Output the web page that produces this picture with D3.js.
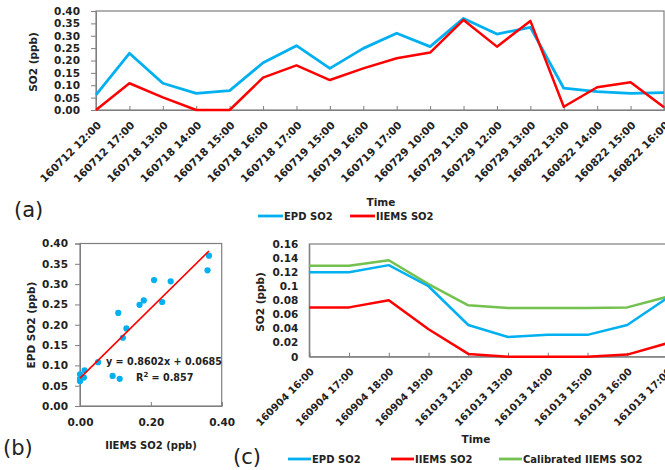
<!DOCTYPE html>
<html><head><meta charset="utf-8">
<script src="https://cdn.jsdelivr.net/npm/d3@7"></script>
<style>
html,body{margin:0;padding:0;background:#fff;}
svg{display:block;font-family:"DejaVu Sans",sans-serif;}
.tick text{font-weight:700;font-size:10.5px;fill:#222;font-family:"DejaVu Sans",sans-serif;}
.lbl{font-weight:700;fill:#222;}
</style></head>
<body>
<svg id="c" width="665" height="470"></svg>
<script>
// ---- Data (a)
const timesA = ["160712 12:00","160712 17:00","160718 13:00","160718 14:00","160718 15:00","160718 16:00","160718 17:00","160719 15:00","160719 16:00","160719 17:00","160729 10:00","160729 11:00","160729 12:00","160729 13:00","160822 13:00","160822 14:00","160822 15:00","160822 16:00"];
const epdA   = [0.061,0.229,0.108,0.067,0.078,0.191,0.260,0.168,0.249,0.310,0.256,0.370,0.307,0.334,0.088,0.074,0.067,0.070];
const iiemsA = [0.000,0.108,0.051,0.000,0.000,0.131,0.180,0.121,0.168,0.209,0.232,0.364,0.256,0.360,0.013,0.092,0.112,0.011];
const ticksA = [0,0.05,0.10,0.15,0.20,0.25,0.30,0.35,0.40];
// ---- Data (b)
const slope = 0.8602, intercept = 0.0685;
const eqText = "y = 0.8602x + 0.0685";
const r2Text = "0.857";
const ticksBY = [0,0.05,0.10,0.15,0.20,0.25,0.30,0.35,0.40];
const ticksBX = [0,0.20,0.40];
// ---- Data (c)
const timesC = ["160904 16:00","160904 17:00","160904 18:00","160904 19:00","161013 12:00","161013 13:00","161013 14:00","161013 15:00","161013 16:00","161013 17:00"];
const epdC   = [0.120,0.120,0.130,0.100,0.045,0.028,0.031,0.031,0.045,0.083];
const iiemsC = [0.070,0.070,0.080,0.039,0.004,0.000,0.000,0.000,0.003,0.019];
const calC   = [0.129,0.129,0.137,0.103,0.073,0.069,0.069,0.069,0.070,0.085];
const ticksC = [0,0.02,0.04,0.06,0.08,0.10,0.12,0.14,0.16];

const BLUE="#00b0f0", RED="#ff0000", GREEN="#74c14f", AX="#7f7f7f";
const svg = d3.select("#c");

function styleAxis(g){
  g.select(".domain").attr("stroke",AX);
  g.selectAll(".tick line").attr("stroke",AX);
}
function rotLabels(g, x, names, y0, fs){
  g.selectAll(null).data(names).join("text")
    .attr("class","lbl").attr("font-size",fs)
    .attr("text-anchor","end").attr("dominant-baseline","central")
    .attr("transform",d=>`translate(${x(d)+3},${y0+13}) rotate(-45)`)
    .text(d=>d);
}

// ================= (a) =================
{
  const L=96,R=664,T=11,B=110;
  const x=d3.scalePoint().domain(timesA).range([L,R]);
  const y=d3.scaleLinear().domain([0,0.40]).range([B,T]);
  const g=svg.append("g");
  g.append("rect").attr("x",L).attr("y",T).attr("width",R-L).attr("height",B-T)
    .attr("fill","none").attr("stroke",AX).attr("stroke-width",1.2);
  g.append("g").attr("transform",`translate(${L},0)`)
    .call(d3.axisLeft(y).tickValues(ticksA).tickSize(5).tickPadding(11).tickFormat(d3.format(".2f")))
    .call(styleAxis);
  g.append("g").attr("transform",`translate(0,${B})`)
    .call(d3.axisBottom(x).tickSize(-4).tickFormat(""))
    .call(styleAxis);
  rotLabels(g,x,timesA,B,10.5);
  const line=d3.line().x((d,i)=>x(timesA[i])).y(d=>y(d));
  g.append("path").datum(epdA).attr("d",line).attr("fill","none").attr("stroke",BLUE).attr("stroke-width",2.8).attr("stroke-linejoin","round");
  g.append("path").datum(iiemsA).attr("d",line).attr("fill","none").attr("stroke",RED).attr("stroke-width",2.5).attr("stroke-linejoin","round");
  g.append("text").attr("class","lbl").attr("font-size",10.5).attr("text-anchor","middle")
    .attr("transform",`translate(37,62) rotate(-90)`).text("SO2  (ppb)");
  g.append("text").attr("class","lbl").attr("font-size",10.5).attr("text-anchor","middle")
    .attr("x",381).attr("y",206).text("Time");
  g.append("text").attr("font-size",21).attr("fill","#222").attr("x",14).attr("y",217).text("(a)");
  const lg=[{n:"EPD SO2",c:BLUE,x:258},{n:"IIEMS SO2",c:RED,x:350}];
  lg.forEach(d=>{
    g.append("line").attr("x1",d.x).attr("x2",d.x+25).attr("y1",216).attr("y2",216).attr("stroke",d.c).attr("stroke-width",2.8);
    g.append("text").attr("class","lbl").attr("font-size",10).attr("x",d.x+26).attr("y",220).text(d.n);
  });
}

// ================= (b) =================
{
  const L=80,R=221.7,T=243.5,B=406;
  const x=d3.scaleLinear().domain([0,0.40]).range([L,R]);
  const y=d3.scaleLinear().domain([0,0.40]).range([B,T]);
  const g=svg.append("g");
  g.append("rect").attr("x",L).attr("y",T).attr("width",R-L).attr("height",B-T)
    .attr("fill","none").attr("stroke",AX).attr("stroke-width",1.2);
  g.append("g").attr("transform",`translate(${L},0)`)
    .call(d3.axisLeft(y).tickValues(ticksBY).tickSize(5).tickPadding(7).tickFormat(d3.format(".2f")))
    .call(styleAxis);
  g.append("g").attr("transform",`translate(0,${B})`)
    .call(d3.axisBottom(x).tickValues(ticksBX).tickSize(-4).tickPadding(13).tickFormat(d3.format(".2f")))
    .call(styleAxis);
  const pts=iiemsA.map((v,i)=>[v,epdA[i]]);
  g.selectAll(null).data(pts).join("circle")
    .attr("cx",d=>x(d[0])).attr("cy",d=>y(d[1])).attr("r",3.1).attr("fill",BLUE);
  const x0=d3.min(iiemsA), x1=d3.max(iiemsA);
  g.append("line").attr("x1",x(x0)).attr("y1",y(slope*x0+intercept)).attr("x2",x(x1)).attr("y2",y(slope*x1+intercept))
    .attr("stroke",RED).attr("stroke-width",1.6);
  g.append("text").attr("class","lbl").attr("font-size",9.6).attr("x",106).attr("y",365).text(eqText);
  const r=g.append("text").attr("class","lbl").attr("font-size",9.6).attr("x",136).attr("y",381);
  r.append("tspan").text("R");
  r.append("tspan").attr("font-size",7).attr("dy",-4).text("2");
  r.append("tspan").attr("dy",4).text(" = "+r2Text);
  g.append("text").attr("class","lbl").attr("font-size",10.5).attr("text-anchor","middle")
    .attr("transform",`translate(35,325) rotate(-90)`).text("EPD SO2 (ppb)");
  g.append("text").attr("class","lbl").attr("font-size",10).attr("text-anchor","middle")
    .attr("x",151).attr("y",449).text("IIEMS SO2 (ppb)");
  g.append("text").attr("font-size",21).attr("fill","#222").attr("x",3).attr("y",455).text("(b)");
}

// ================= (c) =================
{
  const L=309.3,R=667,T=244,B=356.7;
  const x=d3.scalePoint().domain(timesC).range([L,R]);
  const y=d3.scaleLinear().domain([0,0.16]).range([B,T]);
  const g=svg.append("g");
  g.append("rect").attr("x",L).attr("y",T).attr("width",R-L+5).attr("height",B-T)
    .attr("fill","none").attr("stroke",AX).attr("stroke-width",1.2);
  g.append("g").attr("transform",`translate(${L},0)`)
    .call(d3.axisLeft(y).tickValues(ticksC).tickSize(0).tickPadding(11).tickFormat(d=>String(+d.toFixed(2))))
    .call(styleAxis);
  g.append("g").attr("transform",`translate(0,${B})`)
    .call(d3.axisBottom(x).tickSize(-4).tickFormat(""))
    .call(styleAxis);
  rotLabels(g,x,timesC,B,10);
  const line=d3.line().x((d,i)=>x(timesC[i])).y(d=>y(d));
  [[calC,GREEN],[epdC,BLUE],[iiemsC,RED]].forEach(([s,c])=>{
    g.append("path").datum(s).attr("d",line).attr("fill","none").attr("stroke",c).attr("stroke-width",2.5).attr("stroke-linejoin","round");
  });
  g.append("text").attr("class","lbl").attr("font-size",10.5).attr("text-anchor","middle")
    .attr("transform",`translate(264,302) rotate(-90)`).text("SO2  (ppb)");
  g.append("text").attr("class","lbl").attr("font-size",10.5).attr("text-anchor","middle")
    .attr("x",476).attr("y",443).text("Time");
  g.append("text").attr("font-size",21).attr("fill","#222").attr("x",233).attr("y",464).text("(c)");
  const lg=[{n:"EPD SO2",c:BLUE,x:288},{n:"IIEMS SO2",c:RED,x:391},{n:"Calibrated IIEMS SO2",c:GREEN,x:499}];
  lg.forEach(d=>{
    g.append("line").attr("x1",d.x).attr("x2",d.x+23).attr("y1",459).attr("y2",459).attr("stroke",d.c).attr("stroke-width",2.8);
    g.append("text").attr("class","lbl").attr("font-size",10).attr("x",d.x+24).attr("y",463).text(d.n);
  });
}
</script>
</body></html>
